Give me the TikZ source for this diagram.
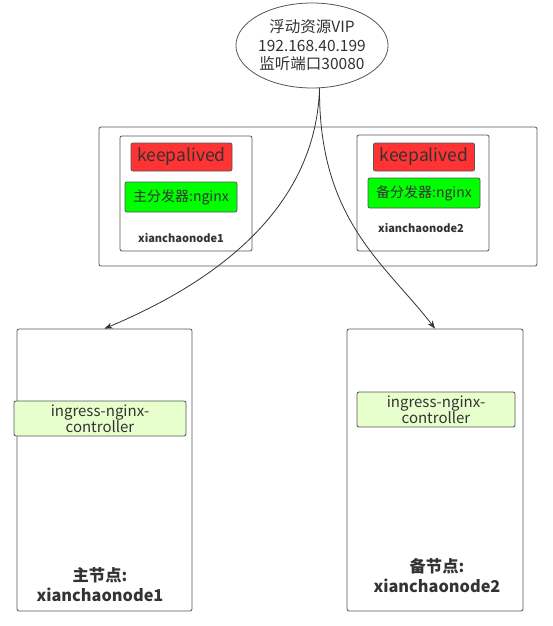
\documentclass[tikz,border=0pt]{standalone}
\usepackage{fontspec}
\setmainfont{Noto Sans CJK SC}
\usepackage{tikz}
\usepackage{xcolor}
\usetikzlibrary{arrows.meta,positioning,shapes.geometric}
\definecolor{framegray}{HTML}{555555}
\definecolor{textgray}{HTML}{333333}
\definecolor{kared}{HTML}{FF3333}
\definecolor{fwdgreen}{HTML}{00FF00}
\definecolor{ingbg}{HTML}{E6FFCC}
\tikzset{
  frame/.style={draw=framegray,line width=0.8pt,rounded corners=2pt,fill=white},
  kabox/.style={draw=framegray,line width=0.8pt,rounded corners=2pt,fill=kared,text=textgray,
        minimum width=101pt,minimum height=28pt,inner sep=0pt,font=\fontsize{17.5}{20}\selectfont},
  fwdbox/.style={draw=framegray,line width=0.8pt,rounded corners=2pt,fill=fwdgreen,text=textgray,
        minimum width=112pt,minimum height=30pt,inner sep=0pt,font=\fontsize{14}{16}\selectfont},
  ingbox/.style={draw=framegray,line width=0.8pt,rounded corners=2pt,fill=ingbg,text=textgray,
        minimum height=35pt,inner sep=0pt,align=center,font=\fontsize{15}{16}\selectfont},
  hostlabel/.style={font=\bfseries\fontsize{11}{13}\selectfont,text=textgray},
  nodelabel/.style={font=\bfseries\fontsize{16.3}{20}\selectfont,text=textgray,align=center},
  flow/.style={draw=textgray,line width=0.8pt,-{Stealth[length=8pt,width=6pt]}}
}
\begin{document}
\begin{tikzpicture}[x=1pt,y=-1pt]
  \useasboundingbox (0,0) rectangle (552,626);
  % virtual IP
  \node[ellipse,draw=framegray,line width=0.8pt,fill=white,minimum width=152pt,minimum height=85pt,
        inner sep=0pt,align=center,text=textgray,font=\fontsize{15.5}{18.5}\selectfont] (vip) at (312,45.5)
        {浮动资源VIP\\192.168.40.199\\监听端口30080};
  % keepalived + nginx pair
  \node[frame,minimum width=438pt,minimum height=139pt] (lbgroup) at (318,196.5) {};
  \node[frame,minimum width=132pt,minimum height=115pt] (lb1) at (186,193.5) {};
  \node[kabox] (ka1) at (181.5,157) {keepalived};
  \node[fwdbox] (fwd1) at (181,197) {主分发器:nginx};
  \node[hostlabel] (lb1name) at (181,238) {xianchaonode1};
  \node[frame,minimum width=132pt,minimum height=116pt] (lb2) at (423,193) {};
  \node[kabox] (ka2) at (424,157) {keepalived};
  \node[fwdbox] (fwd2) at (424,193) {备分发器:nginx};
  \node[hostlabel] (lb2name) at (421,228) {xianchaonode2};
  % k8s nodes
  \node[frame,minimum width=175pt,minimum height=282pt] (master) at (104.5,470) {};
  \node[ingbox,minimum width=172pt] (ing1) at (100,418.5) {ingress-nginx-\\controller};
  \node[nodelabel] (masterlab) at (100,585) {主节点:\\xianchaonode1};
  \node[frame,minimum width=176pt,minimum height=282pt] (backup) at (435,470) {};
  \node[ingbox,minimum width=158pt] (ing2) at (436,409.5) {ingress-nginx-\\controller};
  \node[nodelabel] (backuplab) at (437,576) {备节点:\\xianchaonode2};
  % traffic
  \draw[flow] (vip.280) .. controls +(-4,130) and +(95,-40) .. (master.north);
  \draw[flow] (vip.280) .. controls +(-1,132) and +(-50,-65) .. (backup.north);
\end{tikzpicture}
\end{document}
